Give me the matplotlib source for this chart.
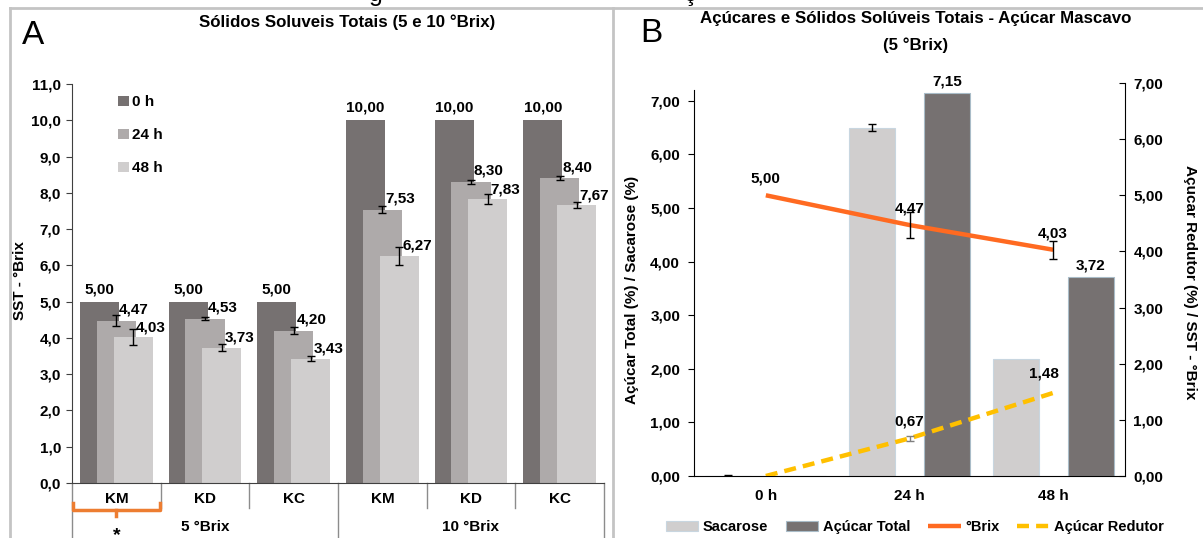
import matplotlib
matplotlib.use('Agg')
import matplotlib.pyplot as plt
import numpy as np
from matplotlib.ticker import FuncFormatter
from matplotlib.lines import Line2D

plt.rcParams['font.family'] = ['Liberation Sans', 'DejaVu Sans']
plt.rcParams['font.weight'] = 'bold'
plt.rcParams['font.size'] = 11

# Painel A - SST (5 e 10 °Brix)
grupos = ['KM', 'KD', 'KC', 'KM', 'KD', 'KC']
brix_grupos = ['5 °Brix', '10 °Brix']
tempos = ['0 h', '24 h', '48 h']
sst_0h = [5.00, 5.00, 5.00, 10.00, 10.00, 10.00]
sst_24h = [4.47, 4.53, 4.20, 7.53, 8.30, 8.40]
sst_48h = [4.03, 3.73, 3.43, 6.27, 7.83, 7.67]
erro_24h = [0.15, 0.05, 0.10, 0.10, 0.05, 0.06]
erro_48h = [0.22, 0.10, 0.08, 0.25, 0.15, 0.08]

# Painel B - Açúcar Mascavo (5 °Brix)
horas = ['0 h', '24 h', '48 h']
sacarose = [0.00, 6.50, 2.18]
sacarose_erro = [0.01, 0.07, 0.0]
acucar_total = [0.00, 7.15, 3.72]
brix = [5.00, 4.47, 4.03]
brix_erro = [0.0, 0.23, 0.16]
acucar_redutor = [0.00, 0.67, 1.48]
redutor_erro = [0.0, 0.05, 0.0]

W, H = 1203, 538


def br(v, d=2):
    return f'{v:.{d}f}'.replace('.', ',')


def caixa(x0, y0, x1, y1):
    # caixa em pixels (topo-esquerda) -> retangulo da figura
    return [x0 / W, 1 - y1 / H, (x1 - x0) / W, (y1 - y0) / H]


fig = plt.figure(figsize=(W / 100, H / 100), dpi=100)

# ---------------- Painel A ----------------
axA = fig.add_axes(caixa(72, 84, 604, 483))
x = np.arange(len(grupos))
cores = ['#767171', '#aeaaaa', '#d0cece']
dx, larg = 0.19, 0.44
ek = dict(ecolor='black', elinewidth=1, capthick=1)
axA.bar(x - dx, sst_0h, larg, color=cores[0], label=tempos[0])
axA.bar(x, sst_24h, larg, color=cores[1], label=tempos[1],
        yerr=erro_24h, capsize=3, error_kw=ek)
axA.bar(x + dx, sst_48h, larg, color=cores[2], label=tempos[2],
        yerr=erro_48h, capsize=3, error_kw=ek)

for i in x:
    axA.annotate(br(sst_0h[i]), (i - dx, sst_0h[i]), xytext=(0, 4),
                 textcoords='offset points', ha='center', va='bottom')
    axA.annotate(br(sst_24h[i]), (i + 0.2, sst_24h[i]), xytext=(0, 3),
                 textcoords='offset points', ha='center', va='bottom')
    axA.annotate(br(sst_48h[i]), (i + dx + 0.2, sst_48h[i]), xytext=(0, 2),
                 textcoords='offset points', ha='center', va='bottom')

axA.set_xlim(-0.5, 5.5)
axA.set_ylim(0, 11)
axA.set_yticks(np.arange(0, 12))
axA.yaxis.set_major_formatter(FuncFormatter(lambda v, p: br(v, 1)))
axA.set_xticks([])
for s in ['top', 'right']:
    axA.spines[s].set_visible(False)
axA.spines['left'].set_color('#404040')
axA.spines['bottom'].set_color('#404040')
axA.tick_params(axis='y', length=4, pad=4, color='#404040')

axA.legend(loc='upper left', bbox_to_anchor=(0.075, 0.987), frameon=False,
           handlelength=0.7, handleheight=0.7, handletextpad=0.2,
           labelspacing=1.25, borderaxespad=0)


def yf(py):
    return (483 - py) / 399


tr = axA.get_xaxis_transform()
for i, g in enumerate(grupos):
    axA.text(i, yf(499), g, transform=tr, ha='center', va='center')
for j, g in enumerate(brix_grupos):
    axA.text(1 + 3 * j, yf(527), g, transform=tr, ha='center', va='center')
for b in [0.5, 1.5, 3.5, 4.5]:
    axA.plot([b, b], [0, yf(508)], transform=tr, clip_on=False,
             color='#8c8c8c', lw=1)
for b in [-0.5, 2.5, 5.5]:
    axA.plot([b, b], [0, yf(540)], transform=tr, clip_on=False,
             color='#8c8c8c', lw=1)

# chave laranja sob o primeiro KM
axA.plot([-0.49, -0.49, 0.49, 0.49], [yf(503), yf(510), yf(510), yf(503)],
         transform=tr, clip_on=False, color='#ed7d31', lw=2.5,
         solid_joinstyle='round')
axA.plot([0, 0], [yf(510), yf(516)], transform=tr, clip_on=False,
         color='#ed7d31', lw=2.5)
axA.text(0, yf(536), '*', transform=tr, ha='center', va='center', fontsize=14)

fig.text(347 / W, 1 - 22 / H, 'Sólidos Soluveis Totais (5 e 10 °Brix)',
         ha='center', va='center', fontsize=12.2)
fig.text(33 / W, 1 - 35 / H, 'A', ha='center', va='center', fontsize=24,
         fontweight='normal')
fig.text(20 / W, 1 - 281 / H, 'SST - °Brix', ha='center', va='center',
         rotation=90)

# ---------------- Painel B ----------------
axB = fig.add_axes(caixa(694, 90, 1125, 476))
xb = np.arange(len(horas))
b1 = axB.bar(xb - 0.26, sacarose, 0.32, color='#d0cece', edgecolor='#c8d6e0',
             linewidth=0.8, label='Sacarose')
b2 = axB.bar(xb + 0.26, acucar_total, 0.32, color='#767171',
             edgecolor='#a9bcc8', linewidth=0.8, label='Açúcar Total')
m = np.array(sacarose_erro) > 0
axB.errorbar((xb - 0.26)[m], np.array(sacarose)[m],
             yerr=np.array(sacarose_erro)[m], fmt='none', capsize=3, **ek)
for i in xb:
    if acucar_total[i] > 0:
        axB.annotate(br(acucar_total[i]), (i + 0.26, acucar_total[i]),
                     xytext=(0, 3), textcoords='offset points',
                     ha='center', va='bottom')

axB.set_xlim(-0.5, 2.5)
axB.set_ylim(0, 7.2)
axB.set_yticks(np.arange(0, 8))
axB.yaxis.set_major_formatter(FuncFormatter(lambda v, p: br(v)))
axB.set_xticks(xb)
axB.set_xticklabels(horas)
axB.tick_params(axis='x', length=0, pad=9)
axB.tick_params(axis='y', length=4, pad=6)
for s in ['top', 'right']:
    axB.spines[s].set_visible(False)

axR = fig.add_axes(caixa(694, 83, 1125, 476), facecolor='none')
for s in ['top', 'left', 'bottom']:
    axR.spines[s].set_visible(False)
l1, = axR.plot(xb, brix, color='#ff6a21', lw=3.2, solid_capstyle='butt',
               label='°Brix')
l2, = axR.plot(xb, acucar_redutor, color='#ffc000', lw=3.2,
               dashes=(2.7, 1.6), label='Açúcar Redutor')
m = np.array(brix_erro) > 0
axR.errorbar(xb[m], np.array(brix)[m], yerr=np.array(brix_erro)[m],
             fmt='none', capsize=3, **ek)
m = np.array(redutor_erro) > 0
axR.errorbar(xb[m], np.array(acucar_redutor)[m],
             yerr=np.array(redutor_erro)[m], fmt='none', capsize=3,
             ecolor='#7f7f7f', elinewidth=1, capthick=1)
for i in xb:
    axR.annotate(br(brix[i]), (i, brix[i]), xytext=(0, 7),
                 textcoords='offset points', ha='center', va='bottom')
    if acucar_redutor[i] > 0:
        off = (-7, 9) if i == xb[-1] else (0, 7)
        axR.annotate(br(acucar_redutor[i]), (i, acucar_redutor[i]),
                     xytext=off, textcoords='offset points',
                     ha='center', va='bottom')
axR.set_xlim(-0.5, 2.5)
axR.set_ylim(0, 7)
axR.set_xticks([])
axR.set_yticks(np.arange(0, 8))
axR.yaxis.tick_right()
axR.yaxis.set_major_formatter(FuncFormatter(lambda v, p: br(v)))
axR.tick_params(axis='y', direction='in', length=4, pad=6)

fig.text(916 / W, 1 - 18 / H,
         'Açúcares e Sólidos Solúveis Totais - Açúcar Mascavo',
         ha='center', va='center', fontsize=12.2)
fig.text(916 / W, 1 - 45 / H, '(5 °Brix)', ha='center', va='center',
         fontsize=12.2)
fig.text(651 / W, 1 - 33 / H, 'B', ha='center', va='center', fontsize=24,
         fontweight='normal')
fig.text(632 / W, 1 - 290 / H, 'Açúcar Total (%) / Sacarose (%)',
         ha='center', va='center', rotation=90)
fig.text(1190 / W, 1 - 282 / H, 'Açucar Redutor (%) / SST - °Brix',
         ha='center', va='center', rotation=270)

fig.legend([b1, b2, l1, l2], ['Sacarose', 'Açúcar Total', '°Brix',
                              'Açúcar Redutor'],
           loc='center', bbox_to_anchor=(915 / W, 1 - 527 / H), ncol=4,
           frameon=False, handlelength=2.2, columnspacing=1.25,
           handletextpad=0.3, fontsize=10.5)

# moldura cinza e restos da legenda cortada no topo
cinza = '#c4c4c4'
fig.add_artist(Line2D([10 / W, 1], [1 - 8 / H] * 2, color=cinza, lw=2))
fig.add_artist(Line2D([10 / W] * 2, [0, 1 - 8 / H], color=cinza, lw=2))
fig.add_artist(Line2D([613 / W] * 2, [0, 1 - 8 / H], color=cinza, lw=2))
fig.text(376 / W, 1 - 1 / H, 'g', ha='center', va='baseline', fontsize=18,
         fontweight='normal')
fig.text(690 / W, 1 - 1 / H, 'ç', ha='center', va='baseline', fontsize=18,
         fontweight='normal')

fig.savefig('out.png', dpi=100)
